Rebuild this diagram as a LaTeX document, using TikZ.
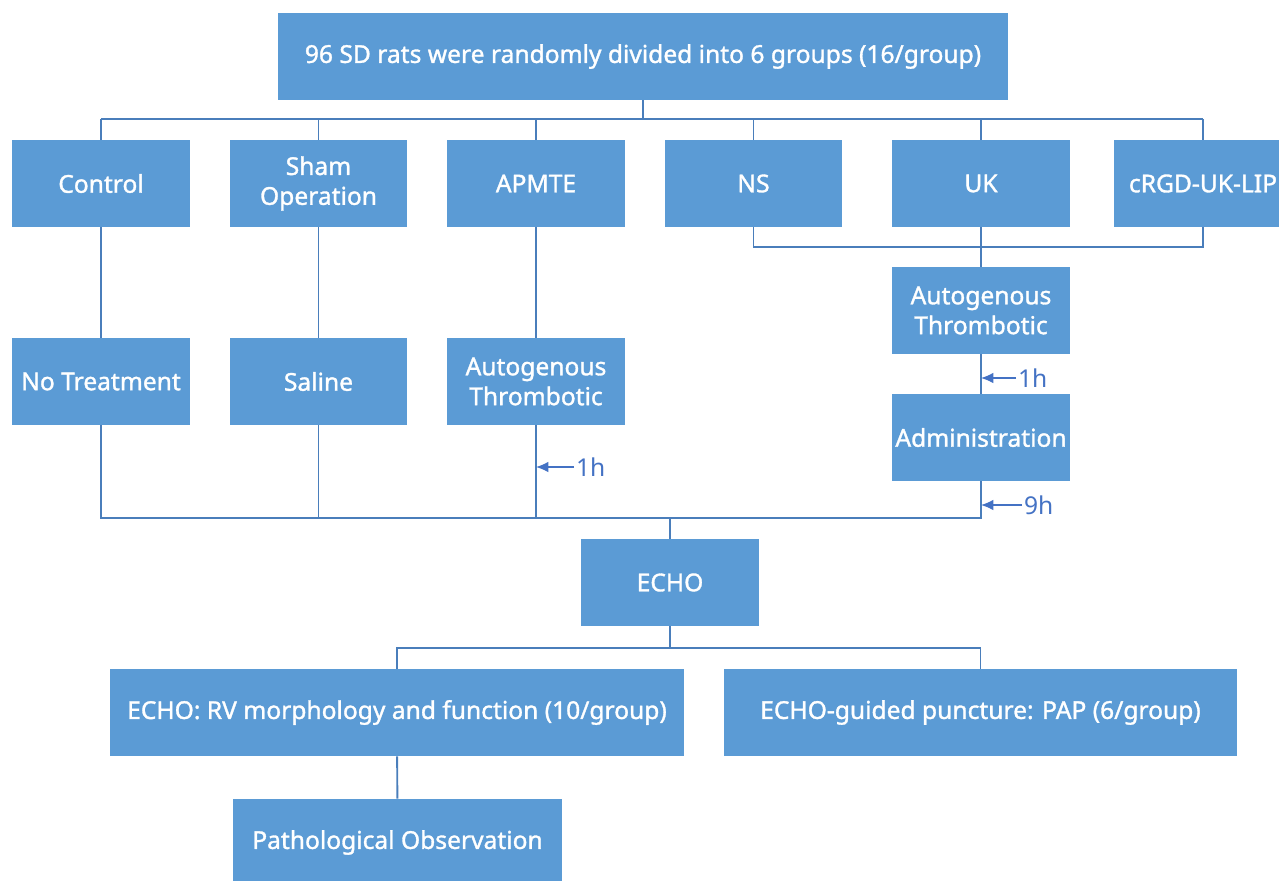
\documentclass[tikz,border=0pt]{standalone}
\usepackage{fontspec}
\setmainfont{Noto Sans}
\newfontfamily\boxfont{Noto Sans}[FakeBold=1.3]
\usetikzlibrary{arrows.meta}
\definecolor{boxblue}{HTML}{5B9BD5}
\definecolor{linkblue}{HTML}{4A7EBB}
\definecolor{noteblue}{HTML}{4472C4}
\begin{document}
\begin{tikzpicture}[x=0.02cm,y=-0.02cm,
    box/.style={fill=boxblue, text=white, minimum width=3.56cm, minimum height=1.74cm,
      inner sep=2pt, align=center, font=\boxfont\fontsize{14}{17}\selectfont},
    link/.style={draw=linkblue, line width=1.1pt},
    note/.style={draw=noteblue, line width=0.7pt, -{Latex[length=7pt,width=6pt]}},
    notetext/.style={text=noteblue, inner sep=1pt, anchor=west, font=\fontsize{14}{16}\selectfont}]
    \useasboundingbox (0,0) rectangle (1279,880);
    \clip (0,0) rectangle (1279,880);
    \coordinate (busA) at (0,119);
    \coordinate (busB) at (0,247);
    \coordinate (busC) at (0,518);
    \coordinate (busD) at (0,648);
    \node (top) at (643,56.5) [box, minimum width=14.6cm] {96 SD rats were randomly divided into 6 groups (16/group)};
    % groups
    \node (ctrl) at (101,183.5) [box] {Control};
    \node (sham) at (318.5,183.5) [box] {Sham\\Operation};
    \node (apmte) at (536,183.5) [box] {APMTE};
    \node (ns) at (753.5,183.5) [box] {NS};
    \node (uk) at (981,183.5) [box] {UK};
    \node (crgd) at (1203,183.5) [box] {cRGD-UK-LIP};
    \foreach \g in {ctrl,sham,apmte,ns,uk,crgd}
      \draw[link] (\g.north) -- (\g.north |- busA);
    \draw[link] (ctrl.north |- busA) -- (crgd.north |- busA);
    \draw[link] (top.south) -- (top.south |- busA);
    % left branches
    \node (notreat) at (101,381.5) [box] {No Treatment};
    \node (saline) at (318.5,381.5) [box] {Saline};
    \node (thrombA) at (536,381.5) [box] {Autogenous\\Thrombotic};
    \draw[link] (ctrl) -- (notreat);
    \draw[link] (sham) -- (saline);
    \draw[link] (apmte) -- (thrombA);
    % right branch
    \node (thrombB) at (981,310.5) [box] {Autogenous\\Thrombotic};
    \node (admin) at (981,437.5) [box] {Administration};
    \draw[link] (ns.south) -- (ns.south |- busB) -- (crgd.south |- busB) -- (crgd.south);
    \draw[link] (uk) -- (thrombB);
    \draw[link] (thrombB) -- (admin);
    % echo
    \node (echo) at (670,582.5) [box] {ECHO};
    \draw[link] (notreat.south) -- (notreat.south |- busC) -- (admin.south |- busC) -- (admin.south);
    \draw[link] (saline.south) -- (saline.south |- busC);
    \draw[link] (thrombA.south) -- (thrombA.south |- busC);
    \draw[link] (echo.north) -- (echo.north |- busC);
    % time notes
    \node (hA) at (574,467) [notetext] {1h};
    \node (hB) at (1016,378) [notetext] {1h};
    \node (hC) at (1022,505) [notetext] {9h};
    \draw[note] (hA.west) -- (hA.west -| thrombA.south);
    \draw[note] (hB.west) -- (hB.west -| thrombB.south);
    \draw[note] (hC.west) -- (hC.west -| admin.south);
    % bottom
    \node (rv) at (397,712.5) [box, minimum width=11.48cm] {ECHO: RV morphology and function (10/group)};
    \node (pap) at (980.5,712.5) [box, minimum width=10.26cm] {ECHO-guided puncture: PAP (6/group)};
    \node (patho) at (397.5,842.5) [box, minimum width=6.58cm] {Pathological Observation};
    \draw[link] (echo.south) -- (echo.south |- busD);
    \draw[link] (rv.north) -- (rv.north |- busD) -- (pap.north |- busD) -- (pap.north);
    \draw[link] (rv) -- (patho);
\end{tikzpicture}
\end{document}
